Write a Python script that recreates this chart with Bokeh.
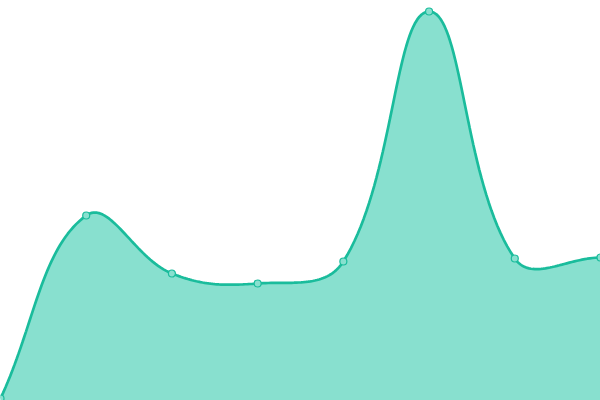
import numpy as np
from bokeh.plotting import figure
from bokeh.models import Range1d
from bokeh.embed import file_html
from bokeh.resources import INLINE

# data
categories = ["A", "B", "C", "D", "E", "F", "G", "H"]
values = [2, 185, 127, 117, 139, 389, 142, 143]

W, H = 600, 400
x_idx = list(range(len(categories)))
ymax = 400.0

def smooth(xs, ys, tension=0.4, steps=40):
    # cubic bezier spline (Chart.js style) computed in pixel space
    sx = W / (len(xs) - 1)
    sy = H / ymax
    P = np.array([[x * sx, y * sy] for x, y in zip(xs, ys)], dtype=float)
    n = len(P)
    cin = P.copy()
    cout = P.copy()
    for i in range(n):
        p0 = P[max(i - 1, 0)]
        p1 = P[i]
        p2 = P[min(i + 1, n - 1)]
        d01 = np.hypot(*(p1 - p0))
        d12 = np.hypot(*(p2 - p1))
        tot = d01 + d12
        if tot == 0:
            continue
        fa = tension * d01 / tot
        fb = tension * d12 / tot
        cin[i] = p1 - fa * (p2 - p0)
        cout[i] = p1 + fb * (p2 - p0)
    out = []
    t = np.linspace(0, 1, steps)
    for i in range(n - 1):
        a, b, c, d = P[i], cout[i], cin[i + 1], P[i + 1]
        seg = ((1 - t) ** 3)[:, None] * a + (3 * (1 - t) ** 2 * t)[:, None] * b \
            + (3 * (1 - t) * t ** 2)[:, None] * c + (t ** 3)[:, None] * d
        out.append(seg if i == 0 else seg[1:])
    out = np.vstack(out)
    return out[:, 0] / sx, out[:, 1] / sy

cx, cy = smooth(x_idx, values)

p = figure(width=W, height=H, output_backend="svg", toolbar_location=None,
           x_range=Range1d(0, len(categories) - 1), y_range=Range1d(0, ymax),
           min_border=0, outline_line_color=None, background_fill_color="white",
           border_fill_color="white")
p.axis.visible = False
p.grid.visible = False

p.patch(list(cx) + [cx[-1], cx[0]], list(cy) + [0, 0],
        fill_color="#88e0cf", fill_alpha=1.0, line_color=None)
p.line(cx, cy, line_color="#1abc9c", line_width=2.7)
p.scatter(x_idx, values, size=7, fill_color="#88e0cf", line_color="#1abc9c",
          line_width=1.2)

open("out.html", "w").write(file_html(p, INLINE))
